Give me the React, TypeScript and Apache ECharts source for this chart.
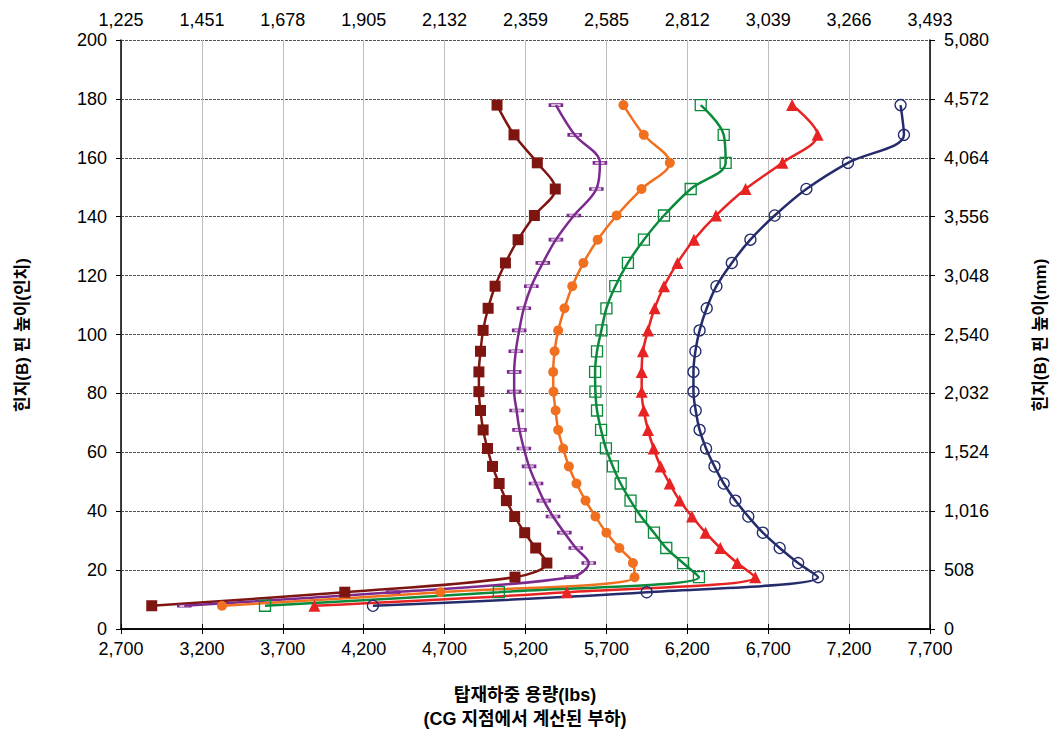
import React, { useEffect, useRef } from "react";
import * as echarts from "echarts";

// Hinge pin heights (inches), shared by every curve, top to bottom
const heights = [177.9, 167.8, 158.3, 149.4, 140.4, 132.2, 124.3, 116.4, 108.9, 101.4, 94.3, 87.3, 80.6, 74.2, 67.6, 61.3, 55.2, 49.4, 43.6, 38.2, 32.7, 27.5, 22.4, 17.6, 12.5, 7.9];

// Capacity (lbs) for each curve at the heights above
const maroonX = [5024, 5129, 5273, 5384, 5255, 5154, 5076, 5012, 4969, 4938, 4922, 4912, 4912, 4922, 4938, 4965, 4996, 5037, 5082, 5133, 5195, 5263, 5332, 5135, 4083, 2890];
const purpleX = [5388, 5504, 5660, 5638, 5499, 5388, 5307, 5236, 5190, 5161, 5140, 5130, 5130, 5145, 5163, 5190, 5222, 5265, 5313, 5370, 5440, 5511, 5591, 5483, 4382, 3091];
const orangeX = [5805, 5931, 6092, 5917, 5763, 5646, 5558, 5489, 5441, 5402, 5380, 5371, 5373, 5386, 5402, 5433, 5468, 5515, 5571, 5632, 5700, 5780, 5864, 5874, 4674, 3324];
const greenX = [6283, 6425, 6437, 6221, 6056, 5932, 5833, 5755, 5700, 5669, 5642, 5630, 5632, 5642, 5667, 5697, 5740, 5788, 5849, 5914, 5994, 6070, 6174, 6272, 5035, 3590];
const redX = [6848, 7005, 6788, 6560, 6377, 6241, 6139, 6056, 5998, 5957, 5926, 5918, 5918, 5931, 5957, 5992, 6035, 6091, 6153, 6229, 6313, 6404, 6509, 6620, 5455, 3895];
const navyX = [7518, 7539, 7193, 6936, 6740, 6590, 6475, 6380, 6320, 6276, 6250, 6238, 6238, 6252, 6276, 6316, 6368, 6425, 6497, 6577, 6667, 6771, 6885, 7008, 5949, 4257];

// Tick labels
const bottomTicks = ["2,700", "3,200", "3,700", "4,200", "4,700", "5,200", "5,700", "6,200", "6,700", "7,200", "7,700"];
const topTicks = ["1,225", "1,451", "1,678", "1,905", "2,132", "2,359", "2,585", "2,812", "3,039", "3,266", "3,493"];
const leftTicks = ["0", "20", "40", "60", "80", "100", "120", "140", "160", "180", "200"];
const rightTicks = ["0", "508", "1,016", "1,524", "2,032", "2,540", "3,048", "3,556", "4,064", "4,572", "5,080"];

const FONT = "'Liberation Sans', Arial, 'Noto Sans CJK KR', sans-serif";

export default function App() {
  const ref = useRef<HTMLDivElement>(null);

  useEffect(() => {
    if (!ref.current) return;
    const chart = echarts.init(ref.current, undefined, { renderer: "svg" });

    const X_MIN = 2700, X_MAX = 7700, X_INT = 500;
    const Y_MIN = 0, Y_MAX = 200, Y_INT = 20;
    const xi = (v: number) => Math.round((v - X_MIN) / X_INT);
    const yi = (v: number) => Math.round((v - Y_MIN) / Y_INT);

    const mk = (xs: number[]) => heights.map((h, i) => [xs[i], h]);

    const labelStyle = { fontFamily: FONT, fontSize: 18, color: "#000" };
    const axisLine = { show: true, lineStyle: { color: "#000", width: 1.5 } };
    const axisTick = { show: true, length: 5, lineStyle: { color: "#000", width: 1 } };

    const seriesDefs = [
      { name: "s1", xs: maroonX, color: "#7E1510", symbol: "rect", size: 11, fill: "#7E1510", bw: 0 },
      { name: "s2", xs: purpleX, color: "#7D2A8E", symbol: "rect", size: [12, 3], fill: "rgba(125,42,142,0.3)", bw: 1.3 },
      { name: "s3", xs: orangeX, color: "#F07020", symbol: "circle", size: 10, fill: "#F07020", bw: 0 },
      { name: "s4", xs: greenX, color: "#0B8A3B", symbol: "rect", size: 11, fill: "rgba(255,255,255,0)", bw: 1.3 },
      { name: "s5", xs: redX, color: "#E82323", symbol: "triangle", size: 12, fill: "#E82323", bw: 0 },
      { name: "s6", xs: navyX, color: "#252C6C", symbol: "circle", size: 11, fill: "rgba(255,255,255,0)", bw: 1.3 },
    ];

    const titleStyle = { fontFamily: FONT, fontSize: 18, fontWeight: "bold", fill: "#000", align: "center", verticalAlign: "middle" };

    chart.setOption({
      animation: false,
      backgroundColor: "#fff",
      grid: { left: 121, right: 131, top: 40, bottom: 103, containLabel: false },
      xAxis: [
        {
          type: "value", position: "bottom", min: X_MIN, max: X_MAX, interval: X_INT,
          axisLine, axisTick,
          axisLabel: { ...labelStyle, margin: 11, formatter: (v: number) => bottomTicks[xi(v)] ?? "" },
          splitLine: { show: true, lineStyle: { color: "#bdbdbd", width: 1, type: "solid" } },
        },
        {
          type: "value", position: "top", min: X_MIN, max: X_MAX, interval: X_INT,
          axisLine, axisTick,
          axisLabel: { ...labelStyle, margin: 11, formatter: (v: number) => topTicks[xi(v)] ?? "" },
          splitLine: { show: false },
        },
      ],
      yAxis: [
        {
          type: "value", position: "left", min: Y_MIN, max: Y_MAX, interval: Y_INT,
          axisLine, axisTick,
          axisLabel: { ...labelStyle, margin: 14, formatter: (v: number) => leftTicks[yi(v)] ?? "" },
          splitLine: { show: true, lineStyle: { color: "#555", width: 1, type: [3, 1] } },
        },
        {
          type: "value", position: "right", min: Y_MIN, max: Y_MAX, interval: Y_INT,
          axisLine, axisTick,
          axisLabel: { ...labelStyle, margin: 14, formatter: (v: number) => rightTicks[yi(v)] ?? "" },
          splitLine: { show: false },
        },
      ],
      series: seriesDefs.map((s) => ({
        name: s.name,
        type: "line",
        xAxisIndex: 0,
        yAxisIndex: 0,
        data: mk(s.xs),
        smooth: 0.35,
        symbol: s.symbol,
        symbolSize: s.size,
        showSymbol: true,
        lineStyle: { color: s.color, width: 2.5 },
        itemStyle: { color: s.fill, borderColor: s.color, borderWidth: s.bw },
        emphasis: { disabled: true },
      })),
      graphic: [
        { type: "text", x: 22, y: 335, rotation: Math.PI / 2, style: { ...titleStyle, fontSize: 17, text: "힌지(B) 핀 높이(인치)" } },
        { type: "text", x: 1040, y: 335, rotation: Math.PI / 2, style: { ...titleStyle, fontSize: 17, text: "힌지(B) 핀 높이(mm)" } },
        { type: "text", x: 525, y: 695, style: { ...titleStyle, text: "탑재하중 용량(lbs)" } },
        { type: "text", x: 525, y: 719, style: { ...titleStyle, text: "(CG 지점에서 계산된 부하)" } },
      ],
    });

    return () => chart.dispose();
  }, []);

  return (
    <div
      ref={ref}
      style={{ position: "absolute", left: 0, top: 0, width: 1061, height: 732, background: "#fff" }}
    />
  );
}
